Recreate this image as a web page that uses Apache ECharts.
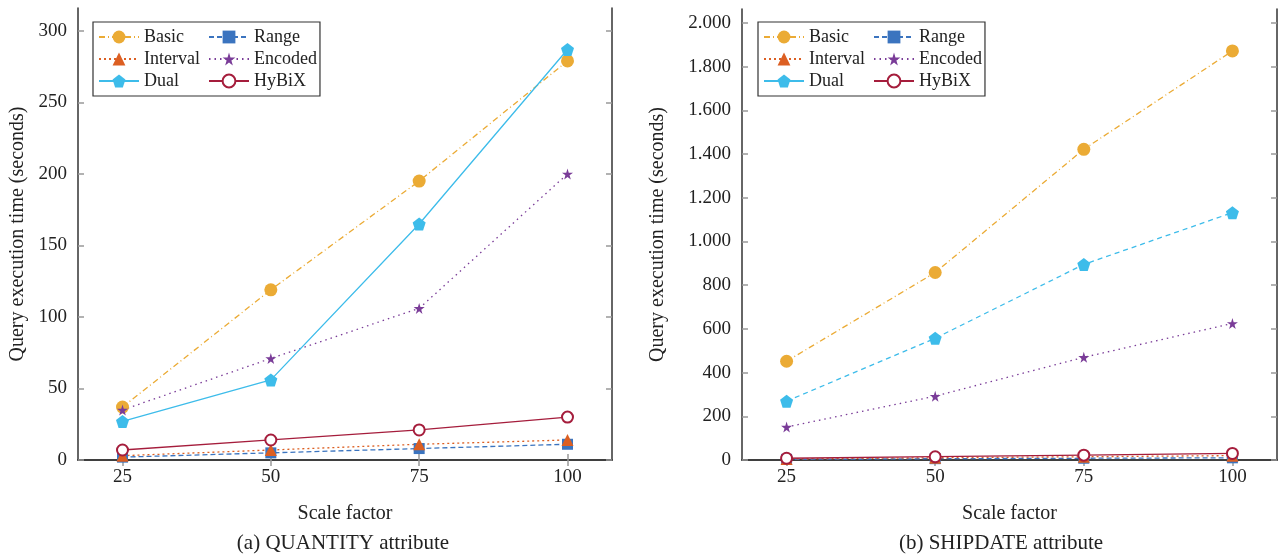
<!DOCTYPE html>
<html>
<head>
<meta charset="utf-8">
<script src="https://cdn.jsdelivr.net/npm/echarts@6/dist/echarts.min.js"></script>
<style>
  html, body { margin: 0; padding: 0; background: #fff; }
  #chart { width: 1280px; height: 558px; }
</style>
</head>
<body>
<div id="chart"></div>
<script>
// scale factors (x axis)
var scaleFactors = [25, 50, 75, 100];

// (a) QUANTITY attribute
var qtyBasic = [37, 119, 195, 279];
var qtyRange = [2, 5, 8, 11];
var qtyInterval = [3, 7, 11, 14];
var qtyEncoded = [35, 71, 106, 200];
var qtyDual = [27, 56, 165, 287];
var qtyHybix = [7, 14, 21, 30];

// (b) SHIPDATE attribute
var shipBasic = [452, 858, 1422, 1872];
var shipRange = [3, 6, 8, 10];
var shipInterval = [5, 10, 15, 20];
var shipEncoded = [151, 292, 470, 625];
var shipDual = [269, 557, 895, 1132];
var shipHybix = [8, 15, 22, 30];

var qtyTicks = [0, 50, 100, 150, 200, 250, 300];
var shipTicks = [0, 200, 400, 600, 800, 1000, 1200, 1400, 1600, 1800, 2000];

var FONT = 'Liberation Serif';
var starPath = 'path://M50,0 L61,35 L98,35 L68,57 L79,91 L50,70 L21,91 L32,57 L2,35 L39,35 Z';
var pentPath = 'path://M50,0 L98,35 L79,91 L21,91 L2,35 Z';

var styles = {
  Basic:    { color: '#ebab35', type: [6, 3, 1, 3], symbol: 'circle', size: 13 },
  Range:    { color: '#3b74bf', type: [5, 3], symbol: 'rect', size: 11 },
  Interval: { color: '#dc5f22', type: [2, 3], symbol: 'triangle', size: 12 },
  Encoded:  { color: '#7a3c98', type: [1.5, 4], symbol: starPath, size: 11 },
  Dual:     { color: '#3dbcea', type: 'solid', symbol: pentPath, size: 13 },
  HyBiX:    { color: '#a51d3c', type: 'solid', symbol: 'emptyCircle', size: 11 }
};

function pairs(vals) {
  return scaleFactors.map(function(x, i) { return [x, vals[i]]; });
}

function makeSeries(name, vals, idx, dualDashed) {
  var s = styles[name];
  var lt = s.type;
  if (name === 'Dual' && dualDashed) lt = [5, 4];
  return {
    name: name,
    type: 'line',
    xAxisIndex: idx,
    yAxisIndex: idx,
    data: pairs(vals),
    symbol: s.symbol,
    symbolSize: s.size,
    showAllSymbol: true,
    animation: false,
    z: name === 'HyBiX' ? 3 : 2,
    itemStyle: { color: s.color, borderColor: s.color, borderWidth: name === 'HyBiX' ? 1.4 : 0 },
    lineStyle: { color: s.color, width: 1.3, type: lt }
  };
}

function xAxes(grid, pos, show) {
  return {
    type: 'value', gridIndex: grid, position: pos,
    min: 17.5, max: 107.5,
    name: show ? 'Scale factor' : '', nameLocation: 'middle', nameGap: 44,
    nameTextStyle: { fontFamily: FONT, fontSize: 20, color: '#222' },
    axisLine: { show: true, lineStyle: { color: '#333', width: 1.5 } },
    axisTick: { show: true, inside: true, length: 6, customValues: scaleFactors, lineStyle: { color: '#999', width: 1.5 } },
    axisLabel: { show: show, customValues: scaleFactors, margin: 8, fontFamily: FONT, fontSize: 19, color: '#222' },
    splitLine: { show: false }
  };
}

function yAxes(grid, pos, show, max, ticks, nameGap, fmt) {
  return {
    type: 'value', gridIndex: grid, position: pos,
    min: 0, max: max,
    name: show ? 'Query execution time (seconds)' : '', nameLocation: 'middle', nameGap: nameGap,
    nameTextStyle: { fontFamily: FONT, fontSize: 20, color: '#222' },
    axisLine: { show: true, lineStyle: { color: '#333', width: 1.5 } },
    axisTick: { show: true, inside: true, length: 6, customValues: ticks, lineStyle: { color: '#999', width: 1.5 } },
    axisLabel: { show: show, customValues: ticks, margin: 11, fontFamily: FONT, fontSize: 19, color: '#222', formatter: fmt },
    splitLine: { show: false }
  };
}

function dotThousands(v) {
  return String(v).replace(/\B(?=(\d{3})+(?!\d))/g, '.');
}

function legendFor(left, names) {
  return {
    left: left, top: 22,
    width: 236,
    orient: 'horizontal',
    data: names,
    itemWidth: 40, itemHeight: 16, itemGap: 4,
    padding: [6, 3, 6, 5],
    borderColor: '#333', borderWidth: 1.2,
    backgroundColor: '#fff',
    textStyle: { fontFamily: FONT, fontSize: 18, color: '#222', width: 60, lineHeight: 18 }
  };
}

var names = ['Basic', 'Range', 'Interval', 'Encoded', 'Dual', 'HyBiX'];
var qtyData = [qtyBasic, qtyRange, qtyInterval, qtyEncoded, qtyDual, qtyHybix];
var shipData = [shipBasic, shipRange, shipInterval, shipEncoded, shipDual, shipHybix];

var series = [];
names.forEach(function(n, i) { series.push(makeSeries(n, qtyData[i], 0, false)); });
names.forEach(function(n, i) { series.push(makeSeries(n, shipData[i], 1, true)); });

var chart = echarts.init(document.getElementById('chart'));
chart.setOption({
  backgroundColor: '#fff',
  animation: false,
  grid: [
    { left: 78, top: 8, width: 534, height: 452 },
    { left: 742, top: 9, width: 535, height: 451 }
  ],
  xAxis: [
    xAxes(0, 'bottom', true), xAxes(1, 'bottom', true),
    xAxes(0, 'top', false), xAxes(1, 'top', false)
  ],
  yAxis: [
    yAxes(0, 'left', true, 316, qtyTicks, 50, null),
    yAxes(1, 'left', true, 2064, shipTicks, 74, dotThousands),
    yAxes(0, 'right', false, 316, qtyTicks, 0, null),
    yAxes(1, 'right', false, 2064, shipTicks, 0, null)
  ],
  legend: [legendFor(93, names), legendFor(758, names)],
  graphic: [
    { type: 'text', x: 343, y: 543, style: { text: '(a) QUANTITY attribute', fontFamily: FONT, fontSize: 21, fill: '#222', align: 'center', verticalAlign: 'middle' } },
    { type: 'text', x: 1001, y: 543, style: { text: '(b) SHIPDATE attribute', fontFamily: FONT, fontSize: 21, fill: '#222', align: 'center', verticalAlign: 'middle' } }
  ],
  series: series
});
</script>
</body>
</html>
